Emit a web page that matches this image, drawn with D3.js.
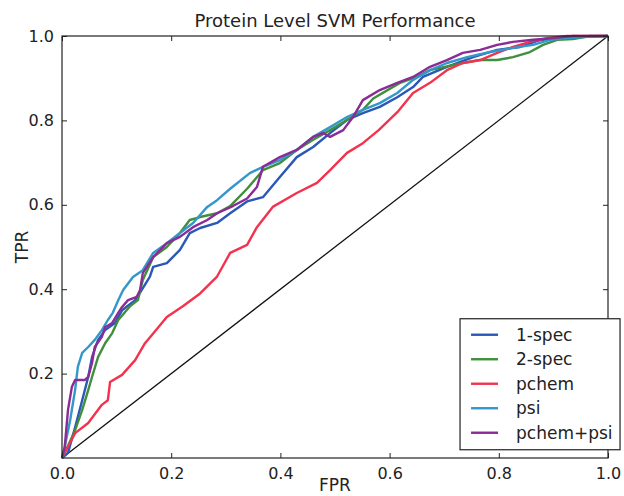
<!DOCTYPE html>
<html>
<head>
<meta charset="utf-8">
<script src="https://cdn.jsdelivr.net/npm/d3@7"></script>
<style>
  body { margin: 0; background: #fff; }
  svg { font-family: "DejaVu Sans", sans-serif; }
  .line { fill: none; stroke-width: 2.4px; stroke-linejoin: round; }
</style>
</head>
<body>
<div id="chart"></div>
<script>
// ROC points: [FPR, TPR]
const spec1 = [[0,0],[0.011,0.012],[0.024,0.073],[0.037,0.137],[0.048,0.192],[0.055,0.239],[0.066,0.28],[0.079,0.303],[0.097,0.32],[0.11,0.35],[0.134,0.374],[0.143,0.392],[0.161,0.43],[0.167,0.453],[0.192,0.462],[0.216,0.493],[0.234,0.533],[0.253,0.545],[0.284,0.557],[0.308,0.58],[0.339,0.608],[0.368,0.618],[0.399,0.666],[0.43,0.713],[0.46,0.737],[0.491,0.77],[0.522,0.801],[0.551,0.817],[0.582,0.832],[0.614,0.855],[0.643,0.879],[0.661,0.903],[0.705,0.927],[0.753,0.95],[0.797,0.967],[0.839,0.974],[0.875,0.99],[0.918,0.998],[1,1]];
const spec2 = [[0,0],[0.005,0.012],[0.024,0.066],[0.037,0.114],[0.048,0.161],[0.055,0.192],[0.066,0.239],[0.079,0.272],[0.092,0.296],[0.103,0.327],[0.125,0.36],[0.139,0.374],[0.148,0.422],[0.167,0.476],[0.192,0.5],[0.216,0.533],[0.234,0.564],[0.253,0.571],[0.284,0.58],[0.308,0.597],[0.339,0.638],[0.368,0.682],[0.399,0.699],[0.43,0.73],[0.46,0.754],[0.491,0.777],[0.522,0.801],[0.551,0.825],[0.57,0.852],[0.619,0.889],[0.65,0.903],[0.674,0.919],[0.734,0.936],[0.766,0.943],[0.797,0.943],[0.826,0.95],[0.857,0.962],[0.881,0.979],[0.907,0.991],[0.936,0.993],[0.967,1],[1,1]];
const pchem = [[0,0],[0.024,0.059],[0.048,0.083],[0.073,0.126],[0.084,0.137],[0.088,0.18],[0.11,0.197],[0.134,0.232],[0.152,0.272],[0.167,0.295],[0.192,0.334],[0.222,0.36],[0.253,0.39],[0.284,0.43],[0.308,0.486],[0.339,0.505],[0.357,0.547],[0.386,0.595],[0.43,0.628],[0.467,0.652],[0.491,0.682],[0.522,0.723],[0.551,0.746],[0.58,0.777],[0.616,0.822],[0.643,0.865],[0.674,0.889],[0.705,0.919],[0.734,0.936],[0.766,0.943],[0.797,0.96],[0.826,0.974],[0.857,0.986],[0.888,0.995],[0.925,1],[1,1]];
const psi = [[0,0],[0.005,0.026],[0.015,0.09],[0.024,0.161],[0.029,0.216],[0.037,0.249],[0.048,0.263],[0.06,0.28],[0.073,0.303],[0.084,0.327],[0.093,0.344],[0.103,0.374],[0.112,0.398],[0.13,0.429],[0.148,0.445],[0.167,0.486],[0.192,0.509],[0.216,0.533],[0.24,0.557],[0.266,0.595],[0.284,0.611],[0.308,0.638],[0.344,0.675],[0.368,0.69],[0.399,0.706],[0.43,0.73],[0.46,0.761],[0.491,0.784],[0.522,0.808],[0.551,0.825],[0.582,0.841],[0.614,0.865],[0.643,0.896],[0.674,0.919],[0.705,0.936],[0.742,0.95],[0.784,0.962],[0.826,0.972],[0.863,0.979],[0.894,0.991],[0.925,0.995],[0.962,0.998],[1,1]];
const pchemPsi = [[0,0],[0.005,0.026],[0.011,0.114],[0.018,0.168],[0.024,0.185],[0.042,0.185],[0.048,0.192],[0.055,0.225],[0.06,0.263],[0.073,0.287],[0.079,0.31],[0.092,0.32],[0.103,0.344],[0.11,0.358],[0.121,0.374],[0.137,0.382],[0.143,0.398],[0.148,0.438],[0.167,0.476],[0.192,0.509],[0.216,0.524],[0.24,0.547],[0.266,0.564],[0.284,0.58],[0.313,0.597],[0.339,0.615],[0.357,0.642],[0.368,0.69],[0.399,0.713],[0.43,0.73],[0.46,0.761],[0.478,0.77],[0.491,0.761],[0.515,0.777],[0.533,0.808],[0.551,0.848],[0.582,0.872],[0.614,0.889],[0.643,0.903],[0.674,0.927],[0.705,0.943],[0.734,0.96],[0.766,0.967],[0.797,0.979],[0.826,0.986],[0.863,0.991],[0.899,0.995],[0.936,1],[1,1]];

const seriesNames = ["1-spec", "2-spec", "pchem", "psi", "pchem+psi"];
const seriesValues = [spec1, spec2, pchem, psi, pchemPsi];
const colors = ["#2a58b8", "#3f8f3c", "#f2334f", "#3497c9", "#8a2b96"];
const xTicks = [0, 0.2, 0.4, 0.6, 0.8, 1.0];
const yTicks = [0.2, 0.4, 0.6, 0.8, 1.0];

const width = 624, height = 496;
const margin = { top: 36, right: 16, bottom: 38, left: 62 };
const w = width - margin.left - margin.right;
const h = height - margin.top - margin.bottom;

const svg = d3.select("#chart").append("svg")
  .attr("width", width)
  .attr("height", height);

const g = svg.append("g")
  .attr("transform", `translate(${margin.left},${margin.top})`);

const x = d3.scaleLinear().domain([0, 1]).range([0, w]);
const y = d3.scaleLinear().domain([0, 1]).range([h, 0]);

/* diagonal */
g.append("line")
  .attr("x1", x(0)).attr("y1", y(0))
  .attr("x2", x(1)).attr("y2", y(1))
  .attr("stroke", "#111")
  .attr("stroke-width", 1.3);

const line = d3.line()
  .x(d => x(d[0]))
  .y(d => y(d[1]));

g.append("g").attr("id", "curves")
  .selectAll(".line")
  .data(seriesValues)
  .enter()
  .append("path")
  .attr("class", "line")
  .attr("d", line)
  .style("stroke", (d, i) => colors[i]);

// axes, ticks pointing inward on all four sides
const fmt = d3.format(".1f");
g.append("g").attr("class", "x axis")
  .attr("transform", `translate(0,${h})`)
  .call(d3.axisBottom(x).tickValues(xTicks).tickFormat(fmt).tickSizeInner(-5).tickSizeOuter(0).tickPadding(10));
g.append("g").attr("class", "y axis")
  .call(d3.axisLeft(y).tickValues(yTicks).tickFormat(fmt).tickSizeInner(-5).tickSizeOuter(0).tickPadding(8));
g.append("g")
  .call(d3.axisTop(x).tickValues(xTicks).tickFormat("").tickSizeInner(-5).tickSizeOuter(0));
g.append("g")
  .attr("transform", `translate(${w},0)`)
  .call(d3.axisRight(y).tickValues(yTicks).tickFormat("").tickSizeInner(-5).tickSizeOuter(0));

g.selectAll(".domain").remove();
g.selectAll(".tick line").attr("stroke", "#222");
g.selectAll(".tick text")
  .attr("fill", "#222")
  .style("font-size", "16px")
  .style("font-family", "DejaVu Sans");

g.append("rect")
  .attr("width", w).attr("height", h)
  .attr("fill", "none")
  .attr("stroke", "#222")
  .attr("stroke-width", 1.2);

/* title and labels */
svg.append("text")
  .attr("x", margin.left + w / 2)
  .attr("y", 27)
  .attr("text-anchor", "middle")
  .style("font-size", "18px")
  .attr("fill", "#222")
  .text("Protein Level SVM Performance");

svg.append("text")
  .attr("x", margin.left + w / 2)
  .attr("y", 491)
  .attr("text-anchor", "middle")
  .style("font-size", "17px")
  .attr("fill", "#222")
  .text("FPR");

svg.append("text")
  .attr("transform", `translate(28,${margin.top + h / 2}) rotate(-90)`)
  .attr("text-anchor", "middle")
  .style("font-size", "17px")
  .attr("fill", "#222")
  .text("TPR");

/* legend */
const legend = g.append("g")
  .attr("transform", `translate(${x(0.729)},${y(0.33)})`);

legend.append("rect")
  .attr("width", 160).attr("height", 131)
  .attr("fill", "#fff")
  .attr("stroke", "#222")
  .attr("stroke-width", 1.2);

const items = legend.selectAll(".item")
  .data(seriesNames)
  .enter()
  .append("g")
  .attr("class", "item")
  .attr("transform", (d, i) => `translate(0,${16 + i * 24.5})`);

items.append("line")
  .attr("x1", 11).attr("x2", 38)
  .attr("stroke", (d, i) => colors[i])
  .attr("stroke-width", 2.4);

items.append("text")
  .attr("x", 56)
  .attr("dy", "0.35em")
  .style("font-size", "17px")
  .attr("fill", "#222")
  .text(d => d);
</script>
</body>
</html>
